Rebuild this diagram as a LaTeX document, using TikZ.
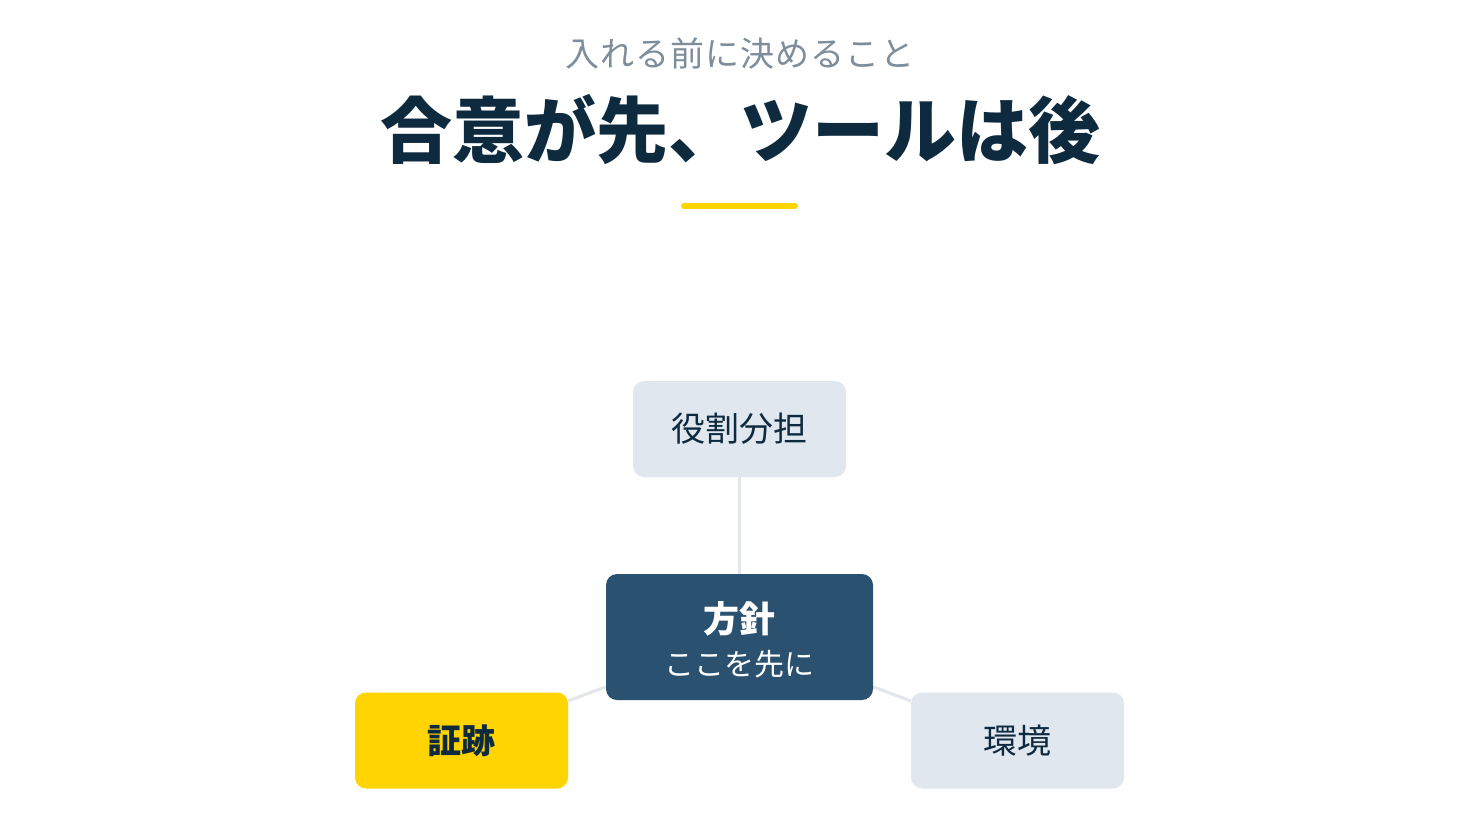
\documentclass[tikz,border=0pt]{standalone}
\usepackage{fontspec}
\setmainfont{Noto Sans CJK JP}
\usetikzlibrary{backgrounds}
\definecolor{navy}{HTML}{0E2A3F}
\definecolor{subgray}{HTML}{7D8D9B}
\definecolor{boxgray}{HTML}{E1E7EF}
\definecolor{centerblue}{HTML}{2B5170}
\definecolor{accent}{HTML}{FFD400}
\definecolor{linegray}{HTML}{E3E6EA}
\tikzset{
  box/.style={rectangle, rounded corners=11pt, minimum width=213pt, minimum height=96pt, inner sep=0pt, align=center},
  outerbox/.style={box, fill=boxgray, text=navy, font=\fontsize{34}{40}\selectfont},
  keybox/.style={box, fill=accent, text=navy, font=\bfseries\fontsize{34}{40}\selectfont},
  centerbox/.style={box, fill=centerblue, text=white, minimum width=267pt, minimum height=126pt},
  link/.style={draw=linegray, line width=3pt},
}
\begin{document}
\begin{tikzpicture}[x=1pt,y=-1pt]
\useasboundingbox (0,0) rectangle (1480,832);
\node[text=subgray, font=\addfontfeature{LetterSpace=3}\fontsize{34}{40}\selectfont, inner sep=0pt] (sub) at (740,54) {入れる前に決めること};
\node[text=navy, font=\bfseries\fontsize{72}{80}\selectfont, inner sep=0pt] (title) at (740,130) {合意が先、ツールは後};
\coordinate (barl) at (684,206);
\coordinate (barr) at (795,206);
\draw[accent, line width=6pt, line cap=round] (barl) -- (barr);

\node[centerbox] (c) at (739.5,637) {{\bfseries\fontsize{36}{42}\selectfont\rule{0pt}{36pt}方針}\\[13pt]{\fontsize{30}{36}\selectfont ここを先に}};
\node[outerbox] (t) at (739.5,429) {役割分担};
\node[keybox] (l) at (461.5,740.5) {証跡};
\node[outerbox] (r) at (1017.5,740.5) {環境};
\begin{scope}[on background layer]
\fill[white] (0,0) rectangle (1480,832);
\draw[link] (c) -- (t);
\draw[link] (c) -- (l);
\draw[link] (c) -- (r);
\end{scope}
\end{tikzpicture}
\end{document}
